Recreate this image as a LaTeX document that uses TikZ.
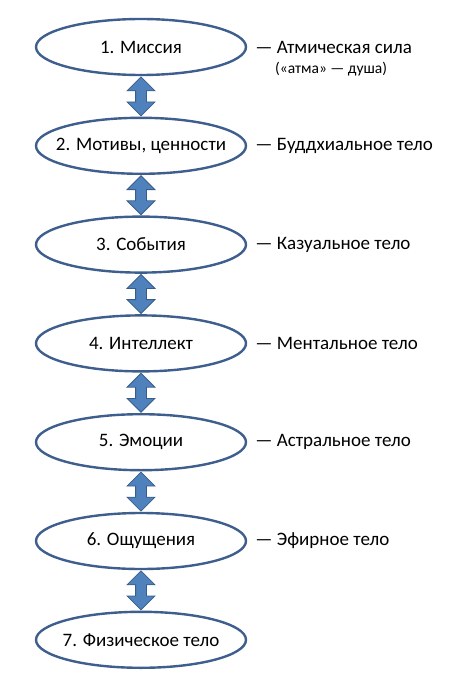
\documentclass[tikz,border=0pt]{standalone}
\usepackage{fontspec}
\setmainfont{Carlito}
\usetikzlibrary{shapes.geometric,shapes.arrows,positioning}
\definecolor{ringblue}{HTML}{3E5E8E}
\definecolor{arrowfill}{HTML}{4F81BD}
\definecolor{arrowline}{HTML}{385D8A}

\begin{document}
\begin{tikzpicture}[x=1pt,y=-1pt,
    level/.style={ellipse, draw=ringblue, line width=2.4pt, minimum width=210pt,
      minimum height=56pt, inner xsep=-25pt, inner ysep=0pt, font=\fontsize{19}{22}\selectfont},
    body/.style={anchor=west, inner sep=0pt, font=\fontsize{19}{22}\selectfont},
    link/.style={double arrow, rotate=90, fill=arrowfill, draw=arrowline, line width=0.8pt,
      inner xsep=0pt, inner ysep=5pt, minimum height=39pt,
      double arrow head extend=8.5pt}]
    \useasboundingbox (0,0) rectangle (471,687);
    % levels
    \node[level] (mission) at (141,47) {1. Миссия};
    \node[level] (motives) at (141,145.8) {2. Мотивы, ценности};
    \node[level] (events) at (141,244.6) {3. События};
    \node[level] (intellect) at (141,343.4) {4. Интеллект};
    \node[level] (emotions) at (141,442.2) {5. Эмоции};
    \node[level] (senses) at (141,541) {6. Ощущения};
    \node[level] (physical) at (141,639.8) {7. Физическое тело};
    % arrows between levels
    \path (mission.south) -- (motives.north) node[midway, link] {};
    \path (motives.south) -- (events.north) node[midway, link] {};
    \path (events.south) -- (intellect.north) node[midway, link] {};
    \path (intellect.south) -- (emotions.north) node[midway, link] {};
    \path (emotions.south) -- (senses.north) node[midway, link] {};
    \path (senses.south) -- (physical.north) node[midway, link] {};
    % bodies
    \node[body, right=8pt of mission.east] (atmic) {— Атмическая сила};
    \node[anchor=west, inner sep=0pt, font=\fontsize{15.5}{18}\selectfont] (atma)
      at (275,69) {(«атма» — душа)};
    \node[body, right=8pt of motives.east] (buddhic) {— Буддхиальное тело};
    \node[body, right=8pt of events.east] (causal) {— Казуальное тело};
    \node[body, right=8pt of intellect.east] (mental) {— Ментальное тело};
    \node[body, right=8pt of emotions.east] (astral) {— Астральное тело};
    \node[body, right=8pt of senses.east] (etheric) {— Эфирное тело};
\end{tikzpicture}
\end{document}
